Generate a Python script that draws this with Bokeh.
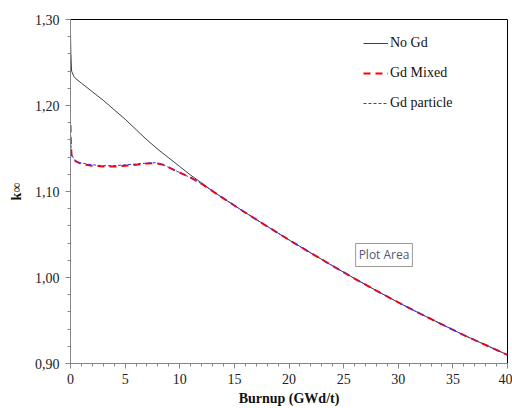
from bokeh.plotting import figure
from bokeh.models import FixedTicker, Legend, LegendItem, Label
from bokeh.embed import file_html
from bokeh.resources import INLINE

# Burnup (GWd/t)
burnup_nogd = [0, 0.03, 0.1, 0.3, 0.5, 1, 2, 3, 4, 5, 6, 7, 8, 9, 10, 11, 12,
               13, 14, 15, 16, 18, 20, 22, 24, 26, 28, 30, 32, 34, 36, 38, 40]
k_nogd = [1.284, 1.262, 1.240, 1.234, 1.231, 1.226, 1.216, 1.206, 1.195, 1.184, 1.172,
          1.160, 1.149, 1.139, 1.129, 1.119, 1.110,
          1.1005, 1.092, 1.0837, 1.0755, 1.0595, 1.0437, 1.0285, 1.0135, 0.9988,
          0.9847, 0.971, 0.958, 0.9455, 0.933, 0.9215, 0.910]

burnup_gd = [0, 0.03, 0.1, 0.3, 0.5, 1, 2, 3, 4, 5, 6, 7, 7.8, 8.5, 9, 10, 11, 12,
             13, 14, 15, 16, 18, 20, 22, 24, 26, 28, 30, 32, 34, 36, 38, 40]
k_gd_mixed = [1.177, 1.155, 1.142, 1.137, 1.135, 1.132, 1.130, 1.129, 1.129, 1.130,
              1.131, 1.1325, 1.133, 1.131, 1.128, 1.122, 1.116, 1.109,
              1.1005, 1.092, 1.0837, 1.0755, 1.0595, 1.0437, 1.0285, 1.0135, 0.9988,
              0.9847, 0.971, 0.958, 0.9455, 0.933, 0.9215, 0.910]
k_gd_particle = [1.177, 1.156, 1.143, 1.138, 1.135, 1.133, 1.131, 1.130, 1.130, 1.131,
                 1.132, 1.133, 1.1335, 1.131, 1.128, 1.122, 1.116, 1.109,
                 1.1005, 1.092, 1.0837, 1.0755, 1.0595, 1.0437, 1.0285, 1.0135, 0.9988,
                 0.9847, 0.971, 0.958, 0.9455, 0.933, 0.9215, 0.910]

x_ticks = [0, 5, 10, 15, 20, 25, 30, 35, 40]
y_ticks = [0.90, 1.00, 1.10, 1.20, 1.30]
y_tick_labels = ["0,90", "1,00", "1,10", "1,20", "1,30"]

SERIF = "Liberation Serif"

p = figure(width=512, height=408, output_backend="svg", toolbar_location=None,
           x_range=(0, 40), y_range=(0.90, 1.30),
           min_border_left=70, min_border_right=5, min_border_top=19, min_border_bottom=45)
p.background_fill_color = "white"
p.border_fill_color = "white"
p.outline_line_color = "black"
p.outline_line_width = 1
p.xgrid.grid_line_color = None
p.ygrid.grid_line_color = None

r1 = p.line(burnup_nogd, k_nogd, line_color="#404040", line_width=1)
r2 = p.line(burnup_gd, k_gd_mixed, line_color="#ff0000", line_width=2, line_dash="7 5")
r3 = p.line(burnup_gd, k_gd_particle, line_color="#3333ff", line_width=1, line_dash="3 2")

for ax in (p.xaxis[0], p.yaxis[0]):
    ax.axis_line_color = "#868686"
    ax.major_tick_line_color = "#868686"
    ax.minor_tick_line_color = "#868686"
    ax.major_tick_in = 0
    ax.minor_tick_in = 0
    ax.major_tick_out = 5
    ax.minor_tick_out = 3
    ax.major_label_text_font = SERIF
    ax.major_label_text_font_size = "14px"
    ax.major_label_text_color = "#222222"
    ax.axis_label_text_font = SERIF
    ax.axis_label_text_font_style = "bold"
    ax.axis_label_text_font_size = "14px"
    ax.axis_label_text_color = "#111111"

p.xaxis.ticker = FixedTicker(ticks=x_ticks, minor_ticks=list(range(0, 41)))
p.yaxis.ticker = FixedTicker(ticks=y_ticks,
                             minor_ticks=[round(0.90 + 0.02 * i, 2) for i in range(21)])
p.yaxis.major_label_overrides = {t: l for t, l in zip(y_ticks, y_tick_labels)}
p.xaxis.major_label_standoff = 5
p.yaxis.major_label_standoff = 6
p.xaxis.axis_label = "Burnup (GWd/t)"
p.xaxis.axis_label_standoff = 4
p.yaxis.axis_label = "k∞"
p.yaxis.axis_label_standoff = 8

legend = Legend(items=[LegendItem(label="No Gd", renderers=[r1]),
                       LegendItem(label="Gd Mixed", renderers=[r2]),
                       LegendItem(label="Gd particle", renderers=[r3])],
                location=(293, 251), orientation="vertical")
legend.border_line_color = None
legend.background_fill_alpha = 0
legend.label_text_font = SERIF
legend.label_text_font_size = "14px"
legend.label_text_color = "#111111"
legend.glyph_width = 25
legend.glyph_height = 18
legend.label_height = 18
legend.spacing = 12
legend.padding = 8
legend.label_standoff = 2
p.add_layout(legend)

tip = Label(x=26.1, y=1.0128, text="Plot Area", text_font="Open Sans",
            text_font_size="12px", text_color="#555577",
            background_fill_color="white", border_line_color="#999999",
            padding=3)
p.add_layout(tip)

open("out.html", "w").write(file_html(p, INLINE))
